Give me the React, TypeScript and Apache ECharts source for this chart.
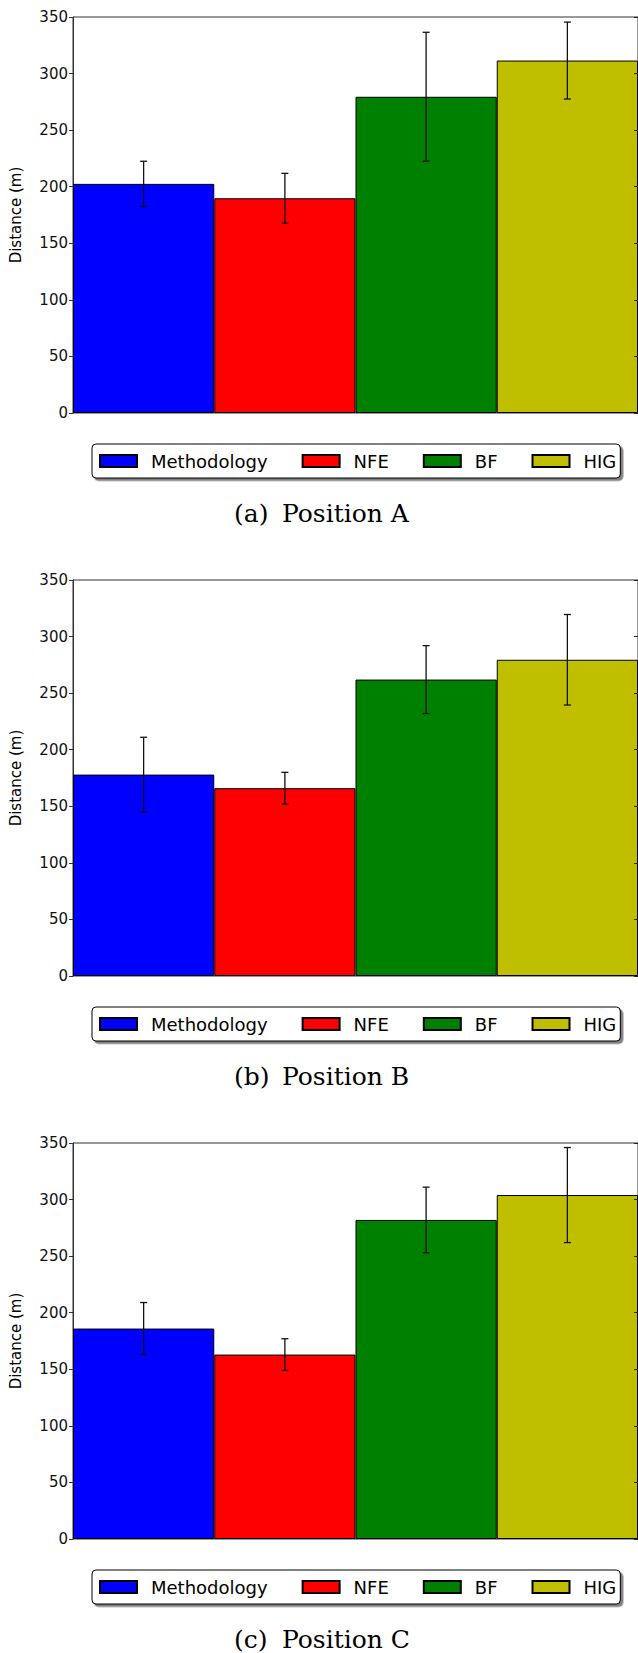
import React, { useEffect, useRef } from "react";
import * as echarts from "echarts";

// Methods compared in every panel, with their bar colours
const methods = ["Methodology", "NFE", "BF", "HIG"];
const methodColors = ["#0000ff", "#ff0000", "#008000", "#bfbf00"];

// Y axis range (metres)
const yMin = 0;
const yMax = 350;
const yStep = 50;

// Mean distance and error-bar half-length per method, for each position
const positionA = [202.5, 189.8, 279.5, 311.5];
const errorA = [20, 22, 57, 34];
const positionB = [178, 166, 262, 279.5];
const errorB = [33, 14, 30, 40];
const positionC = [186, 163, 282, 304];
const errorC = [23, 14, 29, 42];

const panelLetters = ["(a)", "(b)", "(c)"];
const panelTitles = ["Position A", "Position B", "Position C"];
const panelValues = [positionA, positionB, positionC];
const panelErrors = [errorA, errorB, errorC];

// Layout
const PANEL_STEP = 563;
const PLOT_TOP = 17;
const PLOT_H = 396;
const PLOT_LEFT = 73;
const PLOT_W = 567.5;
const LEGEND_TOP = 444;
const CAPTION_Y = 513;

const SANS = "DejaVu Sans";
const SERIF = "DejaVu Serif";

function buildOption() {
  const grid: any[] = [];
  const xAxis: any[] = [];
  const yAxis: any[] = [];
  const series: any[] = [];
  const legend: any[] = [];
  const graphic: any[] = [];

  panelValues.forEach((values, p) => {
    const errs = panelErrors[p];
    const top = PLOT_TOP + p * PANEL_STEP;

    grid.push({
      left: PLOT_LEFT,
      top,
      width: PLOT_W,
      height: PLOT_H,
      show: true,
      borderColor: "#333",
      borderWidth: 1,
      backgroundColor: "transparent",
    });

    xAxis.push({
      type: "category",
      gridIndex: p,
      data: methods,
      axisLine: { show: false },
      axisTick: { show: false },
      axisLabel: { show: false },
      splitLine: { show: false },
    });

    // left axis: labels, outward ticks, axis title
    yAxis.push({
      type: "value",
      gridIndex: p,
      min: yMin,
      max: yMax,
      interval: yStep,
      position: "left",
      name: "Distance (m)",
      nameLocation: "middle",
      nameGap: 50,
      nameTextStyle: { fontFamily: SANS, fontSize: 15, color: "#000" },
      axisLine: { show: true, lineStyle: { color: "#333", width: 1 } },
      axisTick: { show: true, inside: false, length: 4, lineStyle: { color: "#333", width: 1 } },
      axisLabel: { fontFamily: SANS, fontSize: 15, color: "#111", margin: 5 },
      splitLine: { show: false },
    });

    // right axis: inward ticks only
    yAxis.push({
      type: "value",
      gridIndex: p,
      min: yMin,
      max: yMax,
      interval: yStep,
      position: "right",
      z: 10,
      axisLine: { show: false },
      axisTick: { show: true, inside: true, length: 4, lineStyle: { color: "#222", width: 1 } },
      axisLabel: { show: false },
      splitLine: { show: false },
    });

    methods.forEach((name, k) => {
      series.push({
        type: "bar",
        name,
        xAxisIndex: p,
        yAxisIndex: 2 * p,
        barGap: "-100%",
        barCategoryGap: 0,
        itemStyle: { color: methodColors[k], borderColor: "#000", borderWidth: 1 },
        data: methods.map((_, j) => (j === k ? values[k] : "-")),
      });
    });

    series.push({
      type: "custom",
      xAxisIndex: p,
      yAxisIndex: 2 * p,
      z: 10,
      encode: { x: 0, y: [1, 2] },
      data: methods.map((_, j) => [j, values[j] - errs[j], values[j] + errs[j]]),
      renderItem: (_params: any, api: any) => {
        const xi = api.value(0);
        const lo = api.coord([xi, api.value(1)]);
        const hi = api.coord([xi, api.value(2)]);
        const cap = 3.5;
        const style = { stroke: "#111", lineWidth: 1.3 };
        return {
          type: "group",
          children: [
            { type: "line", shape: { x1: lo[0], y1: lo[1], x2: hi[0], y2: hi[1] }, style },
            { type: "line", shape: { x1: lo[0] - cap, y1: lo[1], x2: lo[0] + cap, y2: lo[1] }, style },
            { type: "line", shape: { x1: hi[0] - cap, y1: hi[1], x2: hi[0] + cap, y2: hi[1] }, style },
          ],
        };
      },
    });

    legend.push({
      left: 92,
      top: LEGEND_TOP + p * PANEL_STEP,
      orient: "horizontal",
      data: methods.map((name) => ({ name, icon: "rect" })),
      selectedMode: false,
      itemWidth: 37,
      itemHeight: 12,
      itemGap: 34,
      padding: [8, 4, 8, 7],
      backgroundColor: "#fff",
      borderColor: "#000",
      borderWidth: 1,
      borderRadius: 4,
      shadowColor: "rgba(0,0,0,0.5)",
      shadowBlur: 0,
      shadowOffsetX: 2.5,
      shadowOffsetY: 2.5,
      textStyle: {
        fontFamily: SANS,
        fontSize: 18,
        color: "#000",
        lineHeight: 14,
        padding: [0, 0, 0, 9],
      },
    });

    const cy = CAPTION_Y + p * PANEL_STEP;
    const captionStyle = {
      fontFamily: SERIF,
      fontSize: 25,
      lineHeight: 24,
      fill: "#000",
      textAlign: "left",
      textVerticalAlign: "middle",
    };
    graphic.push({
      type: "text",
      x: 234,
      y: cy,
      style: { ...captionStyle, text: panelLetters[p] },
    });
    graphic.push({
      type: "text",
      x: 282,
      y: cy,
      style: { ...captionStyle, text: panelTitles[p] },
    });
  });

  return {
    animation: false,
    backgroundColor: "#fff",
    grid,
    xAxis,
    yAxis,
    series,
    legend,
    graphic,
  };
}

export default function App() {
  const ref = useRef<HTMLDivElement>(null);

  useEffect(() => {
    document.body.style.margin = "0";
    if (!ref.current) return;
    const chart = echarts.init(ref.current, undefined, { renderer: "svg" });
    chart.setOption(buildOption() as any);
    return () => chart.dispose();
  }, []);

  return <div ref={ref} style={{ width: 638, height: 1653 }} />;
}
